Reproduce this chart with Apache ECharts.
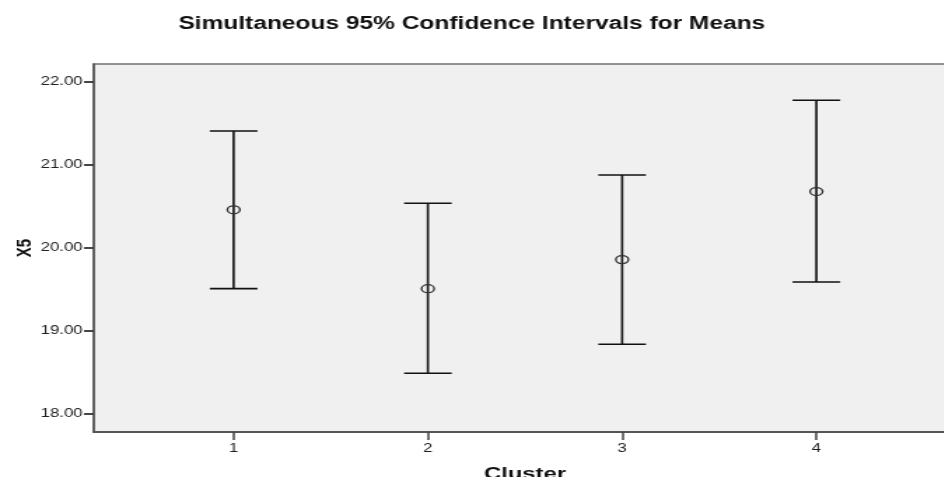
<!DOCTYPE html>
<html>
<head>
<meta charset="utf-8">
<title>Simultaneous 95% Confidence Intervals for Means</title>
<script src="https://cdn.jsdelivr.net/npm/echarts@6/dist/echarts.min.js"></script>
<style>
  html, body { margin: 0; padding: 0; background: #fff; overflow: hidden; }
  /* the reference picture is stretched sideways, so the chart is drawn narrow and widened */
  #chart { width: 674px; height: 477px; transform: scaleX(1.4); transform-origin: 0 0; }
</style>
</head>
<body>
<div id="chart"></div>
<script>
// data
const clusters = [1, 2, 3, 4];
const means = [20.46, 19.51, 19.86, 20.68];
const lower = [19.51, 18.49, 18.84, 19.59];
const upper = [21.41, 20.54, 20.88, 21.78];
const yTicks = [18, 19, 20, 21, 22];

document.addEventListener('DOMContentLoaded', function() {
    const chart = echarts.init(document.getElementById('chart'));

    const barData = clusters.map(function(c, i) { return [c, lower[i], upper[i]]; });
    const meanData = clusters.map(function(c, i) { return [c, means[i]]; });

    const option = {
        animation: false,
        title: {
            text: 'Simultaneous 95% Confidence Intervals for Means',
            left: 'center',
            top: 10,
            textStyle: { fontFamily: 'Liberation Sans', fontSize: 17.5, fontWeight: 'bold', color: '#111' }
        },
        grid: {
            left: 67,
            top: 64,
            width: 616,
            height: 368,
            outerBoundsMode: 'none',
            containLabel: false,
            show: true,
            backgroundColor: '#f0f0f0',
            borderColor: '#707070',
            borderWidth: 1.5
        },
        xAxis: {
            type: 'value',
            min: 0.28,
            max: 4.72,
            name: 'Cluster',
            nameLocation: 'middle',
            nameGap: 34,
            nameMoveOverlap: false,
            nameTextStyle: { fontFamily: 'Liberation Sans', fontSize: 17, fontWeight: 'bold', color: '#111' },
            splitLine: { show: false },
            axisLine: { lineStyle: { color: '#555', width: 2 } },
            axisTick: { customValues: clusters, length: 8, lineStyle: { color: '#444', width: 1.5 } },
            axisLabel: {
                customValues: clusters,
                margin: 11,
                fontFamily: 'Liberation Sans', fontSize: 12, color: '#222'
            }
        },
        yAxis: {
            type: 'value',
            min: 17.783,
            max: 22.217,
            name: 'X5',
            nameLocation: 'middle',
            nameGap: 42,
            nameMoveOverlap: false,
            nameRotate: 90,
            nameTextStyle: { fontFamily: 'Liberation Sans', fontSize: 15, fontWeight: 'bold', color: '#111' },
            splitLine: { show: false },
            axisLine: { lineStyle: { color: '#555', width: 1.5 } },
            axisTick: { customValues: yTicks, length: 7, lineStyle: { color: '#444', width: 2 } },
            axisLabel: {
                customValues: yTicks,
                margin: 8,
                formatter: function(v) { return v.toFixed(2); },
                fontFamily: 'Liberation Sans', fontSize: 12, color: '#222'
            }
        },
        series: [
            {
                name: 'CI',
                type: 'custom',
                data: barData,
                renderItem: function(params, api) {
                    const x = api.value(0);
                    const lo = api.coord([x, api.value(1)]);
                    const hi = api.coord([x, api.value(2)]);
                    const half = 17;
                    const style = { stroke: '#111', lineWidth: 1.6 };
                    return {
                        type: 'group',
                        children: [
                            { type: 'line', shape: { x1: lo[0], y1: lo[1], x2: hi[0], y2: hi[1] }, style: style },
                            { type: 'line', shape: { x1: hi[0] - half, y1: hi[1], x2: hi[0] + half, y2: hi[1] }, style: style },
                            { type: 'line', shape: { x1: lo[0] - half, y1: lo[1], x2: lo[0] + half, y2: lo[1] }, style: style }
                        ]
                    };
                },
                z: 2
            },
            {
                name: 'Mean',
                type: 'scatter',
                data: meanData,
                symbol: 'circle',
                symbolSize: [9, 8],
                itemStyle: { color: 'rgba(0,0,0,0)', borderColor: '#333', borderWidth: 1.3, opacity: 1 },
                z: 3
            }
        ]
    };

    chart.setOption(option);
});
</script>
</body>
</html>
